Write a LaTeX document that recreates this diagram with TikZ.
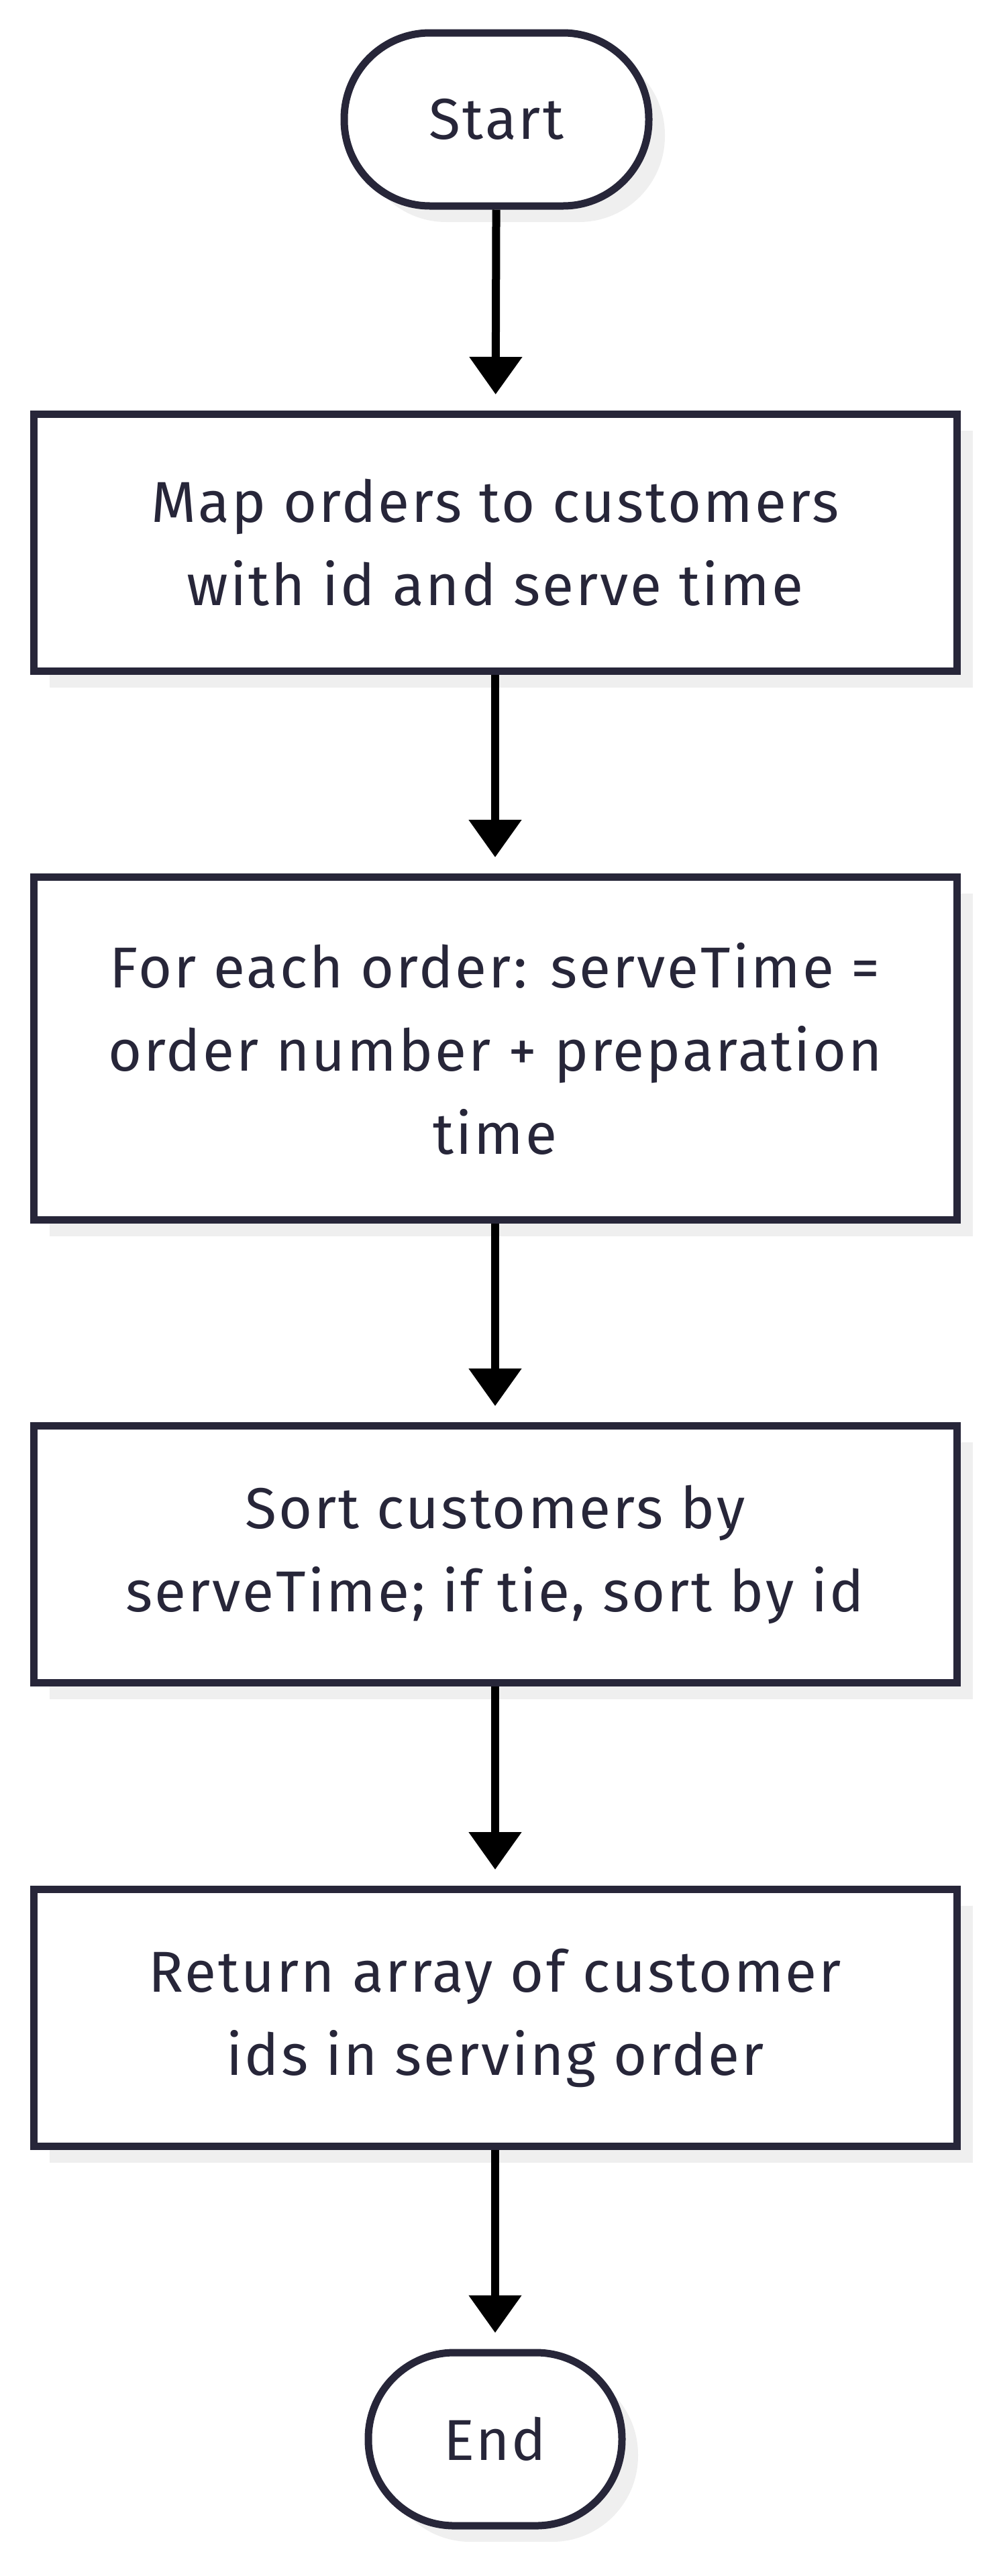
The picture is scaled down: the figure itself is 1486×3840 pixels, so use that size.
\documentclass[tikz,border=0pt]{standalone}
\usepackage{fontspec}
\setmainfont{Fira Sans}[LetterSpace=3.5]
\usetikzlibrary{arrows.meta, shadows}

\definecolor{inkline}{HTML}{272639}
\definecolor{shadowgray}{HTML}{EFEFEF}

\tikzset{
    stepbox/.style={draw=inkline, line width=5.5pt, fill=white, text=inkline,
        align=center, minimum width=688pt, inner sep=0pt,
        font=\fontsize{43}{62}\selectfont,
        drop shadow={shadow xshift=12pt, shadow yshift=-12pt, fill=shadowgray, opacity=1}},
    terminal/.style={stepbox, rounded corners=64pt, minimum height=129pt},
    flow/.style={-{Triangle[width=38pt, length=28pt]}, line width=6pt, shorten >=12pt}
}

\begin{document}
\begin{tikzpicture}[x=0.5pt, y=-0.5pt]
    \useasboundingbox (0,0) rectangle (1486,3840);

    % Terminals
    \node[terminal, minimum width=227pt] (start) at (740,178) {Start};
    \node[terminal, minimum width=189pt] (finish) at (738,3636) {End};

    % Steps
    \node[stepbox, minimum height=191.5pt] (mapping) at (738,809)
        {Map orders to customers\\with id and serve time};
    \node[stepbox, minimum height=255.5pt] (servetime) at (738,1563)
        {For each order: serveTime =\\order number + preparation\\time};
    \node[stepbox, minimum height=191.5pt] (sorting) at (738,2317)
        {Sort customers by\\serveTime; if tie, sort by id};
    \node[stepbox, minimum height=191.5pt] (result) at (738,3008)
        {Return array of customer\\ids in serving order};

    % Connectors
    \draw[flow] (start) -- (mapping);
    \draw[flow] (mapping) -- (servetime);
    \draw[flow] (servetime) -- (sorting);
    \draw[flow] (sorting) -- (result);
    \draw[flow] (result) -- (finish);
\end{tikzpicture}
\end{document}
